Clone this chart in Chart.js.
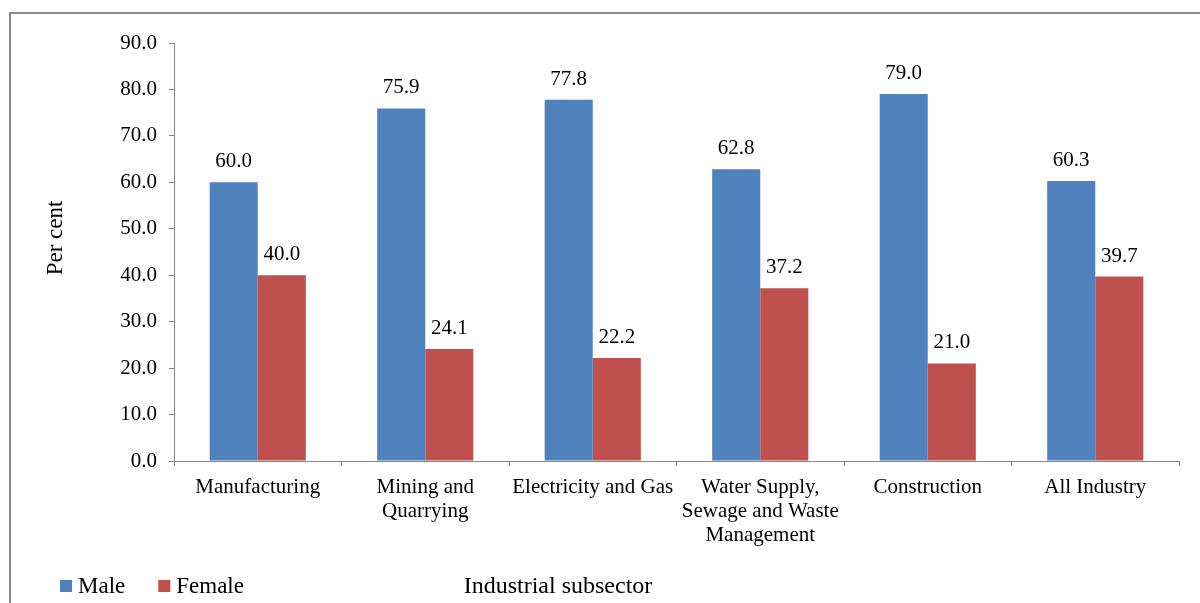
<!DOCTYPE html>
<html>
<head>
<meta charset="utf-8">
<title>Employment by sex, industrial subsector</title>
<script src="https://cdn.jsdelivr.net/npm/chart.js@4/dist/chart.umd.min.js"></script>
<style>
  html, body { margin: 0; padding: 0; background: #fff; }
  #wrap { position: relative; width: 1200px; height: 603px; overflow: hidden; }
  #frame { position: absolute; left: 9px; top: 12px; width: 1300px; height: 700px;
           border-left: 2px solid #8c8c8c; border-top: 2px solid #8c8c8c; }
  #chart { position: absolute; left: 0; top: 0; }
</style>
</head>
<body>
<div id="wrap">
  <div id="frame"></div>
  <canvas id="chart" width="1200" height="603"></canvas>
</div>
<script>
  // chart data
  const subsectors = [
    'Manufacturing',
    ['Mining and', 'Quarrying'],
    'Electricity and Gas',
    ['Water Supply,', 'Sewage and Waste', 'Management'],
    'Construction',
    'All Industry'
  ];
  const malePct = [60.0, 75.9, 77.8, 62.8, 79.0, 60.3];
  const femalePct = [40.0, 24.1, 22.2, 37.2, 21.0, 39.7];
  const yTicks = [0, 10, 20, 30, 40, 50, 60, 70, 80, 90];

  const serif = "'Liberation Serif', 'Times New Roman', serif";
  const axisGrey = '#868686';

  // value labels above each bar
  const barValues = {
    id: 'barValues',
    afterDatasetsDraw(chart) {
      const ctx = chart.ctx;
      ctx.save();
      ctx.font = '21px ' + serif;
      ctx.fillStyle = '#000';
      ctx.textAlign = 'center';
      ctx.textBaseline = 'alphabetic';
      chart.data.datasets.forEach((ds, i) => {
        chart.getDatasetMeta(i).data.forEach((bar, j) => {
          ctx.fillText(ds.data[j].toFixed(1), bar.x, bar.y - 15);
        });
      });
      ctx.restore();
    }
  };

  // axis titles and legend, placed where the original has them
  const titlesAndLegend = {
    id: 'titlesAndLegend',
    afterDraw(chart) {
      const ctx = chart.ctx;
      const baseline = 593;
      ctx.save();
      ctx.fillStyle = '#000';

      // y axis title, sits a bit above the middle of the axis
      ctx.save();
      ctx.translate(56, 238);
      ctx.rotate(-Math.PI / 2);
      ctx.font = '23px ' + serif;
      ctx.textAlign = 'center';
      ctx.textBaseline = 'middle';
      ctx.fillText('Per cent', 0, 0);
      ctx.restore();

      // legend, bottom left
      ctx.font = '23px ' + serif;
      ctx.textAlign = 'left';
      ctx.textBaseline = 'alphabetic';
      let x = 60;
      chart.data.datasets.forEach(ds => {
        ctx.fillStyle = ds.backgroundColor;
        ctx.fillRect(x, baseline - 13, 12, 12);
        ctx.fillStyle = '#000';
        ctx.fillText(ds.label, x + 18, baseline);
        x += 18 + ctx.measureText(ds.label).width + 33;
      });

      // x axis title on the legend line
      ctx.font = '24px ' + serif;
      ctx.textAlign = 'center';
      ctx.fillText('Industrial subsector', 558, baseline);
      ctx.restore();
    }
  };

  new Chart(document.getElementById('chart'), {
    type: 'bar',
    data: {
      labels: subsectors,
      datasets: [
        { label: 'Male', data: malePct, backgroundColor: '#4F81BD' },
        { label: 'Female', data: femalePct, backgroundColor: '#C0504D' }
      ]
    },
    options: {
      responsive: false,
      animation: false,
      devicePixelRatio: 1,
      categoryPercentage: 0.574,
      barPercentage: 1,
      layout: { padding: { left: 32, right: 21, top: 43, bottom: 56 } },
      plugins: {
        legend: { display: false },
        tooltip: { enabled: false }
      },
      scales: {
        x: {
          grid: { display: true, drawOnChartArea: false, drawTicks: true, tickLength: 5, color: axisGrey },
          border: { color: axisGrey },
          ticks: {
            font: { family: serif, size: 21, lineHeight: 1.15 },
            color: '#000',
            padding: 9,
            maxRotation: 0,
            minRotation: 0,
            autoSkip: false
          },
          afterFit(scale) { scale.height = 86; }
        },
        y: {
          min: 0,
          max: 90,
          afterBuildTicks(scale) { scale.ticks = yTicks.map(v => ({ value: v })); },
          grid: { display: true, drawOnChartArea: false, drawTicks: true, tickLength: 5, color: axisGrey },
          border: { color: axisGrey },
          ticks: {
            font: { family: serif, size: 21 },
            color: '#000',
            padding: 12,
            callback: v => Number(v).toFixed(1)
          },
          afterFit(scale) { scale.width = 142; }
        }
      }
    },
    plugins: [barValues, titlesAndLegend]
  });
</script>
</body>
</html>
